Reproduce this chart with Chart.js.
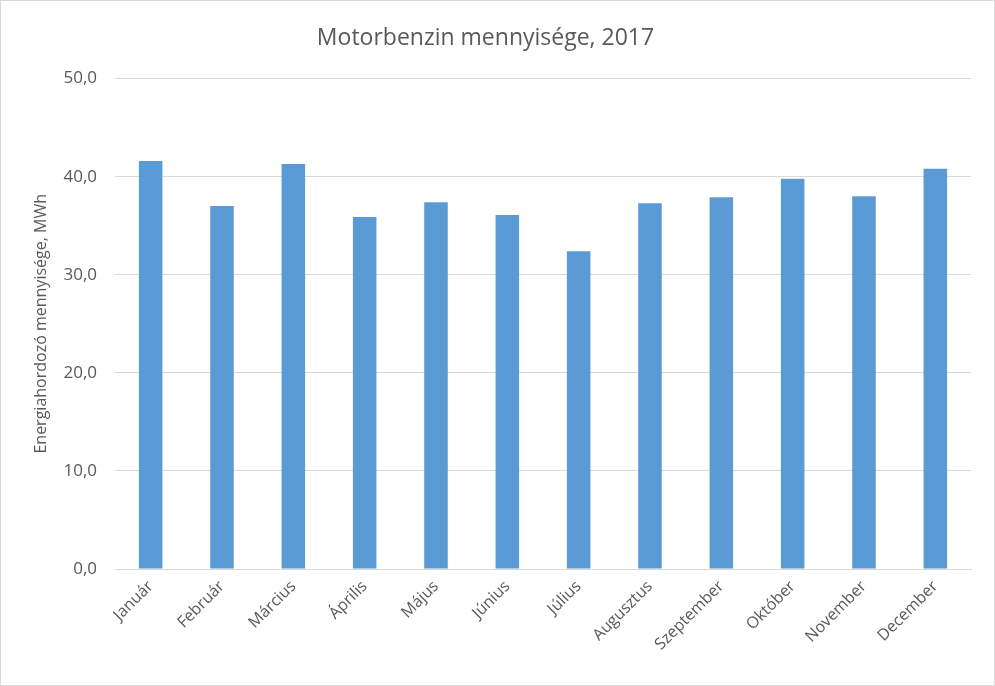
<!DOCTYPE html>
<html>
<head>
<meta charset="utf-8">
<script src="https://cdn.jsdelivr.net/npm/chart.js@4.4.0/dist/chart.umd.min.js"></script>
<style>
  html, body { margin: 0; padding: 0; background: #fff; }
  #wrap { width: 995px; height: 686px; position: relative; }
</style>
</head>
<body>
<div id="wrap"><canvas id="chart"></canvas></div>
<script>
// adatok
const honapok = ["Január", "Február", "Március", "Április", "Május", "Június",
    "Július", "Augusztus", "Szeptember", "Október", "November", "December"];
const benzin = [41.6, 37.0, 41.3, 35.9, 37.4, 36.1, 32.4, 37.3, 37.9, 39.8, 38.0, 40.8];
const yTicks = [0, 10, 20, 30, 40, 50];

const szurke = "#595959";
const racs = "#d9d9d9";

// fehér háttér + keret
const keret = {
    id: "keret",
    beforeDraw(chart) {
        const c = chart.ctx;
        c.save();
        c.fillStyle = "#fff";
        c.fillRect(0, 0, chart.width, chart.height);
        c.strokeStyle = racs;
        c.lineWidth = 1;
        c.strokeRect(0.5, 0.5, chart.width - 1, chart.height - 1);
        c.restore();
    }
};

new Chart(document.getElementById("chart"), {
    type: "bar",
    data: {
        labels: honapok,
        datasets: [{
            data: benzin,
            backgroundColor: "#5b9bd5",
            categoryPercentage: 1,
            barPercentage: 0.33
        }]
    },
    options: {
        responsive: true,
        maintainAspectRatio: false,
        animation: false,
        layout: { padding: { left: 0, right: 24, top: 0, bottom: 0 } },
        plugins: {
            legend: { display: false },
            tooltip: { enabled: false },
            title: {
                display: true,
                text: "Motorbenzin mennyisége, 2017",
                color: szurke,
                font: { family: "Open Sans", size: 23, weight: "normal" },
                padding: { top: 25, bottom: 26 }
            }
        },
        scales: {
            x: {
                grid: { display: false, drawTicks: false },
                border: { color: racs, width: 1 },
                ticks: {
                    color: szurke,
                    font: { family: "Open Sans", size: 16 },
                    minRotation: 45,
                    maxRotation: 45,
                    padding: 8
                },
                afterFit(scale) { scale.height = 117; }
            },
            y: {
                min: 0,
                max: 50,
                afterBuildTicks(scale) { scale.ticks = yTicks.map(v => ({ value: v })); },
                grid: { color: racs, drawTicks: false },
                border: { display: false },
                ticks: {
                    color: szurke,
                    font: { family: "Open Sans", size: 17 },
                    padding: 18,
                    callback: v => v.toFixed(1).replace(".", ",")
                },
                title: {
                    display: true,
                    text: "Energiahordozó mennyisége, MWh",
                    color: szurke,
                    font: { family: "Open Sans", size: 16 },
                    padding: { top: 32, bottom: 0 }
                },
                afterFit(scale) { scale.width = 115; }
            }
        }
    },
    plugins: [keret]
});
</script>
</body>
</html>
